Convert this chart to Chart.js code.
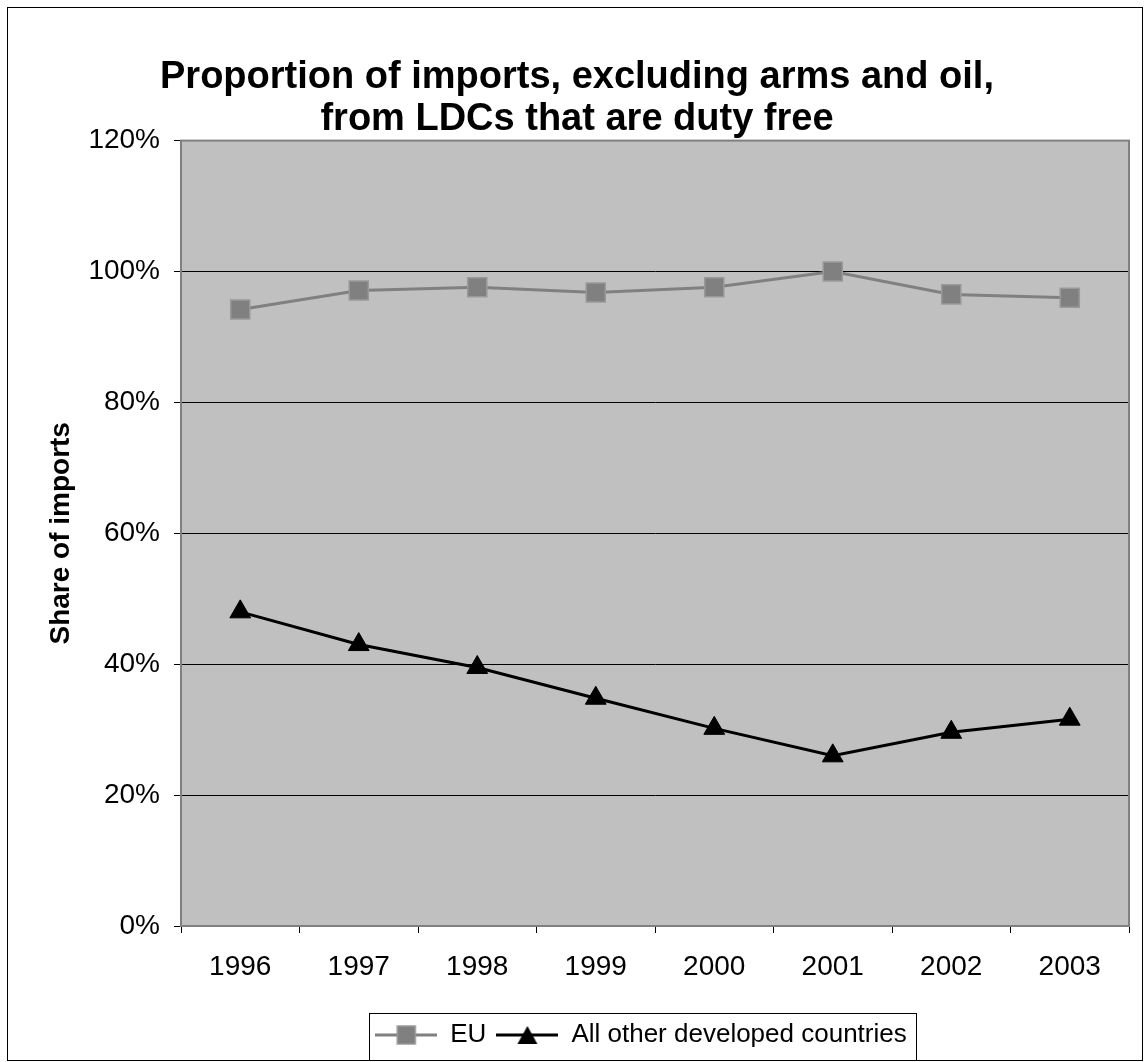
<!DOCTYPE html>
<html>
<head>
<meta charset="utf-8">
<title>Proportion of imports from LDCs that are duty free</title>
<script src="https://cdn.jsdelivr.net/npm/chart.js@4/dist/chart.umd.min.js"></script>
<style>
    html, body { margin: 0; padding: 0; background: #ffffff; }
    canvas { display: block; }
</style>
</head>
<body>
<canvas id="importsChart" width="1144" height="1062"></canvas>
<script>
// Chart data
const years = ['1996', '1997', '1998', '1999', '2000', '2001', '2002', '2003'];
const euShare = [94.2, 97.1, 97.6, 96.8, 97.6, 100.0, 96.5, 96.0];
const otherShare = [48.0, 43.0, 39.5, 34.8, 30.2, 26.0, 29.6, 31.6];
const seriesNames = ['EU', 'All other developed countries'];
const yMin = 0, yMax = 120, yStep = 20;

const FONT = 'Arial, "Liberation Sans", Helvetica, sans-serif';

// small canvas used as legend symbol: line with marker in the middle
function legendIcon(lineColor, marker) {
    const c = document.createElement('canvas');
    c.width = 62;
    c.height = 24;
    const g = c.getContext('2d');
    g.strokeStyle = lineColor;
    g.lineWidth = 3;
    g.beginPath();
    g.moveTo(0, 12);
    g.lineTo(62, 12);
    g.stroke();
    if (marker === 'rect') {
        g.fillStyle = '#808080';
        g.fillRect(22, 3, 18, 18);
        g.strokeStyle = '#999999';
        g.lineWidth = 1.5;
        g.strokeRect(22, 3, 18, 18);
    } else {
        g.fillStyle = '#000000';
        g.beginPath();
        g.moveTo(31, 3);
        g.lineTo(41, 21);
        g.lineTo(21, 21);
        g.closePath();
        g.fill();
    }
    return c;
}

const legendIcons = [legendIcon('#808080', 'rect'), legendIcon('#000000', 'triangle')];

const plotFrame = {
    id: 'plotFrame',
    beforeDraw(chart) {
        const { ctx, chartArea: a } = chart;
        ctx.save();
        ctx.fillStyle = '#ffffff';
        ctx.fillRect(0, 0, chart.width, chart.height);
        ctx.fillStyle = '#c0c0c0';
        ctx.fillRect(a.left, a.top, a.right - a.left, a.bottom - a.top);
        ctx.restore();
    },
    beforeDatasetsDraw(chart) {
        const { ctx, chartArea: a } = chart;
        ctx.save();
        ctx.strokeStyle = '#808080';
        ctx.lineWidth = 2;
        ctx.strokeRect(a.left, a.top, a.right - a.left, a.bottom - a.top);
        ctx.restore();
    },
    afterLayout(chart) {
        // Excel puts the legend a bit right of the page centre
        chart.legend.left += 64;
        chart.legend.right += 64;
    },
    afterDraw(chart) {
        const { ctx } = chart;
        ctx.save();
        // legend frame
        const boxes = chart.legend.legendHitBoxes;
        if (boxes && boxes.length) {
            const first = boxes[0], last = boxes[boxes.length - 1];
            const x1 = first.left - 6, x2 = last.left + last.width + 10;
            const y1 = first.top - 9, y2 = first.top + first.height + 12;
            ctx.strokeStyle = '#000000';
            ctx.lineWidth = 1;
            ctx.strokeRect(Math.round(x1) + 0.5, Math.round(y1) + 0.5, Math.round(x2 - x1), Math.round(y2 - y1));
        }
        // outer chart border
        ctx.strokeStyle = '#000000';
        ctx.lineWidth = 1;
        ctx.strokeRect(7.5, 7.5, 1135, 1053);
        ctx.restore();
    }
};

new Chart(document.getElementById('importsChart'), {
    type: 'line',
    data: {
        labels: years,
        datasets: [{
            label: seriesNames[0],
            data: euShare,
            borderColor: '#808080',
            borderWidth: 3,
            pointStyle: 'rect',
            pointRadius: 13.5,
            pointBackgroundColor: '#808080',
            pointBorderColor: '#999999',
            pointBorderWidth: 1.5,
            tension: 0
        }, {
            label: seriesNames[1],
            data: otherShare,
            borderColor: '#000000',
            borderWidth: 3,
            pointStyle: 'triangle',
            pointRadius: 12,
            pointBackgroundColor: '#000000',
            pointBorderColor: '#000000',
            pointBorderWidth: 1,
            tension: 0
        }]
    },
    options: {
        responsive: false,
        animation: false,
        devicePixelRatio: 1,
        layout: {
            padding: { left: 20, right: 10, top: 0, bottom: 4 }
        },
        plugins: {
            title: {
                display: true,
                text: ['Proportion of imports, excluding arms and oil,', 'from LDCs that are duty free'],
                color: '#000000',
                font: { family: FONT, size: 38, weight: 'bold', lineHeight: 1.1 },
                padding: { top: 57, bottom: 0 }
            },
            legend: {
                position: 'bottom',
                labels: {
                    color: '#000000',
                    font: { family: FONT, size: 26 },
                    usePointStyle: true,
                    pointStyleWidth: 62,
                    padding: 10,
                    generateLabels: chart => chart.data.datasets.map((ds, i) => ({
                        text: ds.label,
                        pointStyle: legendIcons[i],
                        fillStyle: ds.borderColor,
                        strokeStyle: ds.borderColor,
                        lineWidth: 0,
                        hidden: false,
                        datasetIndex: i
                    }))
                }
            },
            tooltip: { enabled: false }
        },
        scales: {
            x: {
                offset: true,
                grid: {
                    offset: true,
                    drawOnChartArea: false,
                    drawTicks: true,
                    tickLength: 7,
                    color: '#000000'
                },
                border: { color: '#808080', width: 2 },
                ticks: {
                    color: '#000000',
                    font: { family: FONT, size: 28 },
                    padding: 17,
                    maxRotation: 0
                },
                afterFit: scale => { scale.height = 86; }
            },
            y: {
                min: yMin,
                max: yMax,
                grid: {
                    color: '#000000',
                    lineWidth: 1,
                    tickLength: 7
                },
                border: { color: '#808080', width: 2 },
                ticks: {
                    stepSize: yStep,
                    color: '#000000',
                    font: { family: FONT, size: 28 },
                    padding: 14,
                    callback: v => v + '%'
                },
                title: {
                    display: true,
                    text: 'Share of imports',
                    color: '#000000',
                    font: { family: FONT, size: 28, weight: 'bold' },
                    padding: { top: 24, bottom: 0 }
                },
                afterFit: scale => { scale.width = 161; }
            }
        }
    },
    plugins: [plotFrame]
});
</script>
</body>
</html>
